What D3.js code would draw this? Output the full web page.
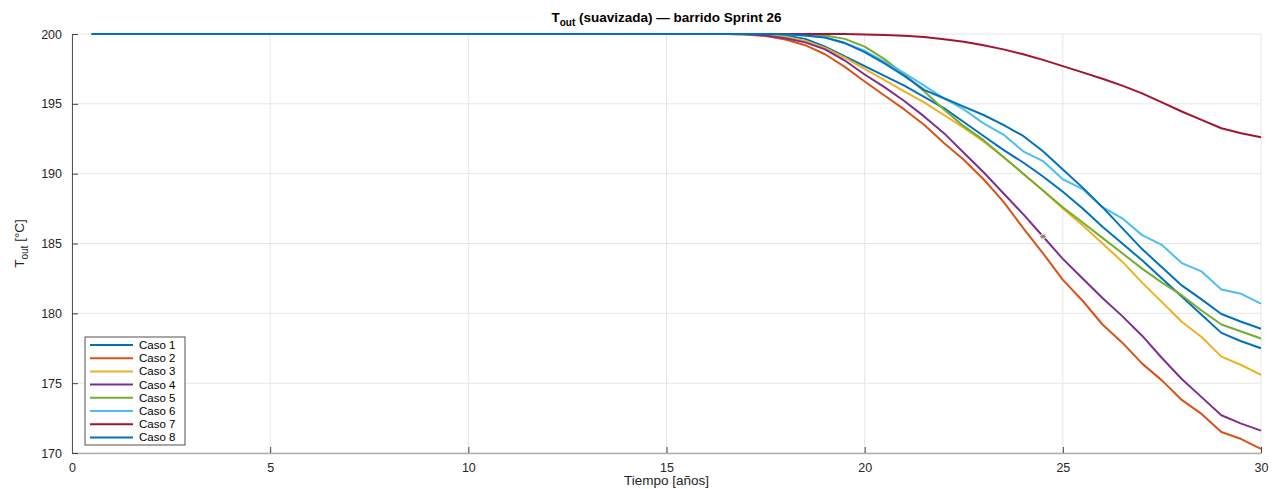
<!DOCTYPE html>
<html><head><meta charset="utf-8">
<script src="https://cdn.jsdelivr.net/npm/d3@7/dist/d3.min.js"></script>
<style>body{margin:0;background:#fff;}svg{display:block;font-family:"Liberation Sans",Arial,Helvetica,sans-serif;}</style>
</head><body><svg id="c" width="1278" height="489"></svg>
<script>
const times = [0.5,16,16.5,17,17.5,18,18.5,19,19.5,20,20.5,21,21.5,22,22.5,23,23.5,24,24.5,25,25.5,26,26.5,27,27.5,28,28.5,29,29.5,30];
const caso1 = [200,200,200,200,199.97,199.9,199.65,199.1,198.4,197.7,197.0,196.3,195.5,194.7,193.7,192.7,191.7,190.8,189.8,188.7,187.5,186.2,185.0,183.8,182.5,181.2,179.9,178.6,178.0,177.5];
const caso2 = [200,200,200,199.97,199.85,199.6,199.2,198.55,197.65,196.6,195.6,194.6,193.5,192.2,191.0,189.6,188.0,186.1,184.3,182.4,180.9,179.2,177.9,176.4,175.2,173.8,172.8,171.5,171.0,170.3];
const caso3 = [200,200,200,200,199.95,199.8,199.5,199.0,198.3,197.5,196.7,195.9,195.1,194.2,193.3,192.3,191.2,190.0,188.8,187.5,186.3,185.0,183.7,182.2,180.8,179.4,178.3,176.9,176.3,175.6];
const caso4 = [200,200,200,199.98,199.9,199.7,199.4,198.9,198.1,197.1,196.2,195.2,194.1,192.9,191.5,190.1,188.6,187.1,185.5,183.9,182.5,181.1,179.8,178.4,176.8,175.3,174.0,172.7,172.1,171.6];
const caso5 = [200,200,200,200,200,200,200,199.9,199.65,199.1,198.2,197.1,195.9,194.6,193.4,192.4,191.2,190.0,188.8,187.6,186.5,185.4,184.3,183.2,182.2,181.3,180.2,179.2,178.7,178.2];
const caso6 = [200,200,200,200,200,199.98,199.9,199.75,199.35,198.8,198.0,197.2,196.3,195.4,194.6,193.6,192.8,191.6,190.9,189.6,188.9,187.6,186.8,185.6,184.9,183.6,183.0,181.7,181.4,180.7];
const caso7 = [200,200,200,200,200,200,200,200,200,199.97,199.93,199.87,199.78,199.62,199.45,199.2,198.9,198.55,198.15,197.7,197.25,196.8,196.3,195.75,195.1,194.45,193.85,193.25,192.9,192.6];
const caso8 = [200,200,200,200,200,199.98,199.9,199.75,199.35,198.7,197.9,197.0,196.0,195.4,194.8,194.2,193.5,192.7,191.6,190.3,189.0,187.6,186.1,184.6,183.3,182.0,181.0,179.95,179.4,178.9];
const seriesNames = ["Caso 1","Caso 2","Caso 3","Caso 4","Caso 5","Caso 6","Caso 7","Caso 8"];
const seriesValues = [caso1,caso2,caso3,caso4,caso5,caso6,caso7,caso8];
const colors = ["#0072BD","#D95319","#EDB120","#7E2F8E","#77AC30","#4DBEEE","#A2142F","#0072BD"];
const xTicks = [0,5,10,15,20,25,30];
const yTicks = [170,175,180,185,190,195,200];
const markerTime = 24.5;

const svg = d3.select("#c");
const L = 72, R = 1261, T = 34, B = 453;
const x = d3.scaleLinear().domain([0,30]).range([L,R]);
const y = d3.scaleLinear().domain([170,200]).range([B,T]);

// grid
const g = svg.append("g");
g.selectAll("line.gx").data(xTicks).join("line")
  .attr("x1",d=>x(d)).attr("x2",d=>x(d)).attr("y1",T).attr("y2",B)
  .attr("stroke","#e6e6e6").attr("stroke-width",1);
g.selectAll("line.gy").data(yTicks).join("line")
  .attr("y1",d=>y(d)).attr("y2",d=>y(d)).attr("x1",L).attr("x2",R)
  .attr("stroke","#e6e6e6").attr("stroke-width",1);

// axes
const xAxis = d3.axisBottom(x).tickValues(xTicks).tickSizeInner(-6).tickSizeOuter(0).tickPadding(10);
const yAxis = d3.axisLeft(y).tickValues(yTicks).tickSizeInner(-6).tickSizeOuter(0).tickPadding(10);
const gx = svg.append("g").attr("transform",`translate(0,${B})`).call(xAxis);
const gy = svg.append("g").attr("transform",`translate(${L},0)`).call(yAxis);
gx.select(".domain").attr("stroke","#b0b0b0").attr("stroke-width",1.5);
gy.select(".domain").attr("stroke","#555").attr("stroke-width",1);
[gx,gy].forEach(a=>{
  a.selectAll(".tick line").attr("stroke","#444");
  a.selectAll(".tick text").attr("fill","#262626").attr("font-size",12.5).attr("font-family","Liberation Sans, Arial, sans-serif");
});

// lines
const line = d3.line().x((d,i)=>x(times[i])).y(d=>y(d));
svg.append("g").selectAll("path").data(seriesValues).join("path")
  .attr("d",d=>line(d)).attr("fill","none")
  .attr("stroke",(d,i)=>colors[i]).attr("stroke-width",2).attr("stroke-linejoin","round");

// small data-tip marker on Caso 4
const mi = times.indexOf(markerTime);
svg.append("ellipse").attr("cx",x(markerTime)).attr("cy",y(caso4[mi]))
  .attr("rx",3).attr("ry",2.3).attr("fill","#888").attr("stroke","#e8e0b0").attr("stroke-width",1);

// title
const title = svg.append("text").attr("x",(L+R)/2).attr("y",22).attr("text-anchor","middle")
  .attr("font-weight","bold").attr("font-size",13.5).attr("fill","#000");
title.append("tspan").text("T");
title.append("tspan").attr("font-size",10).attr("dy",4).text("out");
title.append("tspan").attr("dy",-4).text(" (suavizada) — barrido Sprint 26");

// x label
svg.append("text").attr("x",(L+R)/2).attr("y",485).attr("text-anchor","middle")
  .attr("font-size",13.5).attr("fill","#262626").text("Tiempo [años]");
// y label
const yl = svg.append("text").attr("transform",`translate(24,${(T+B)/2}) rotate(-90)`)
  .attr("text-anchor","middle").attr("font-size",13.5).attr("fill","#262626");
yl.append("tspan").text("T");
yl.append("tspan").attr("font-size",10).attr("dy",4).text("out");
yl.append("tspan").attr("dy",-4).text(" [°C]");

// legend
const lg = svg.append("g");
const lx = 85, ly = 337, rowH = 13.2;
lg.append("rect").attr("x",lx).attr("y",ly).attr("width",100).attr("height",108)
  .attr("fill","#fff").attr("stroke","#262626").attr("stroke-width",0.8);
seriesNames.forEach((n,i)=>{
  const cy = ly + 8 + i*rowH;
  lg.append("line").attr("x1",lx+5).attr("x2",lx+48).attr("y1",cy).attr("y2",cy)
    .attr("stroke",colors[i]).attr("stroke-width",2);
  lg.append("text").attr("x",lx+54).attr("y",cy+4).attr("font-size",11.5).attr("fill","#000").text(n);
});
</script></body></html>
